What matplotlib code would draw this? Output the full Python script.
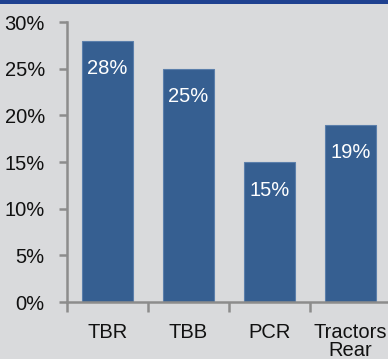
import matplotlib
matplotlib.use("Agg")
import matplotlib.pyplot as plt
from matplotlib.patches import Rectangle
from matplotlib.ticker import FuncFormatter, FixedLocator

categories = ["TBR", "TBB", "PCR", "Tractors\nRear"]
shares = [28, 25, 15, 19]
y_ticks = [0, 5, 10, 15, 20, 25, 30]

plt.rcParams["font.family"] = ["Liberation Sans", "DejaVu Sans"]

bg = "#d9dadc"
bar_color = "#365f91"
axis_color = "#8c8c8c"

W, H = 388, 359
fig = plt.figure(figsize=(W / 100, H / 100), dpi=100, facecolor=bg)
ax = fig.add_axes([67 / W, (H - 302) / H, (391 - 67) / W, (302 - 22) / H])
ax.set_facecolor(bg)

x = list(range(len(categories)))
bars = ax.bar(x, shares, width=0.64, color=bar_color, edgecolor="#5b7fab",
              linewidth=0.8, zorder=2)

for xi, v in zip(x, shares):
    ax.annotate(f"{v}%", xy=(xi, v), xytext=(0, -28), textcoords="offset pixels",
                ha="center", va="center", color="white", fontsize=14.5)

ax.set_xlim(-0.5, len(categories) - 0.5)
ax.set_ylim(0, 30)
ax.set_yticks(y_ticks)
ax.yaxis.set_major_formatter(FuncFormatter(lambda v, _: f"{v:.0f}%"))

ax.set_xticks(x)
ax.set_xticklabels(categories, fontsize=14.5, linespacing=0.95)
ax.xaxis.set_minor_locator(FixedLocator([i - 0.5 for i in range(len(categories) + 1)]))

ax.tick_params(axis="y", length=6, width=1.8, color=axis_color, pad=10,
               labelsize=14.5, labelcolor="#111111")
ax.tick_params(axis="x", which="major", length=0, pad=15, labelcolor="#111111")
ax.tick_params(axis="x", which="minor", length=7, width=1.8, color=axis_color)

for side in ("top", "right"):
    ax.spines[side].set_visible(False)
for side in ("left", "bottom"):
    ax.spines[side].set_color(axis_color)
    ax.spines[side].set_linewidth(1.8)

# dark band along the top edge
fig.patches.append(Rectangle((0, 1 - 3.5 / H), 1, 3.5 / H, transform=fig.transFigure,
                             facecolor="#1f4190", edgecolor="none", zorder=5))

fig.savefig("out.png", dpi=100, facecolor=bg)
